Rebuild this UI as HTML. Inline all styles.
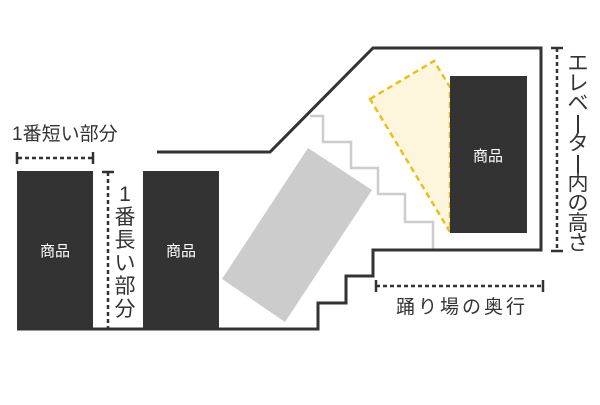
<!DOCTYPE html>
<html><head><meta charset="utf-8"><style>
body{margin:0;background:#fff}
svg text{font-family:"Liberation Sans","Noto Sans CJK JP",sans-serif}
</style></head><body>
<svg width="600" height="400" viewBox="0 0 600 400" xmlns="http://www.w3.org/2000/svg">
<rect width="600" height="400" fill="#fff"/>
<polyline points="310,116 323,116 323,142 351,142 351,168 378,168 378,194 405,194 405,222 433,222 433,250" fill="none" stroke="#ccc" stroke-width="2.5"/>
<polygon points="308,148 372,190 285,322 222,279" fill="#ccc"/>
<polyline points="17,329 318,329 318,303 346,303 346,276 373,276 373,250 541,250 541,48 373,48 270,152 157,152" fill="none" stroke="#333" stroke-width="3"/>
<rect x="17" y="171" width="76" height="159" fill="#333"/>
<rect x="143" y="171" width="76" height="159" fill="#333"/>
<polygon points="370,99 434,61 450,87 450,232" fill="#fdf6dc" stroke="#e8c020" stroke-width="2.5" stroke-dasharray="6,4"/>
<rect x="450" y="76" width="77" height="157" fill="#333"/>
<g fill="#fff" font-size="15" text-anchor="middle">
<text x="55" y="256">商品</text>
<text x="181" y="256">商品</text>
<text x="488" y="161">商品</text>
</g>
<g stroke="#333" stroke-width="2.5">
<line x1="18" y1="158" x2="92" y2="158" stroke-dasharray="4,3"/>
<line x1="17" y1="152" x2="17" y2="164"/><line x1="93" y1="152" x2="93" y2="164"/>
<line x1="108" y1="172" x2="108" y2="329" stroke-dasharray="4,3"/>
<line x1="102" y1="172" x2="114" y2="172"/><line x1="102" y1="329" x2="114" y2="329"/>
<line x1="557" y1="48" x2="557" y2="251" stroke-dasharray="4,3"/>
<line x1="551" y1="48" x2="563" y2="48"/><line x1="551" y1="251" x2="563" y2="251"/>
<line x1="376" y1="286" x2="543" y2="286" stroke-dasharray="4,3"/>
<line x1="376" y1="280" x2="376" y2="292"/><line x1="543" y1="280" x2="543" y2="292"/>
</g>
<g fill="#333" font-size="19">
<text x="12" y="140">1番短い部分</text>
<text x="462" y="313" text-anchor="middle" letter-spacing="3">踊り場の奥行</text>
</g>
<g fill="#333" font-size="21" text-anchor="middle">
<text x="125" y="201">1</text><text x="125" y="224">番</text><text x="125" y="247">長</text><text x="125" y="270">い</text><text x="125" y="293">部</text><text x="125" y="316">分</text>
<text x="578" y="70">エ</text><text x="578" y="90">レ</text><text x="578" y="110">ベ</text>
<text x="578" y="150">タ</text>
<text x="578" y="190">内</text><text x="578" y="210">の</text><text x="578" y="230">高</text><text x="578" y="250">さ</text>
</g>
<rect x="577" y="115" width="2" height="18" fill="#333"/>
<rect x="577" y="155" width="2" height="18" fill="#333"/>
</svg>
</body></html>
